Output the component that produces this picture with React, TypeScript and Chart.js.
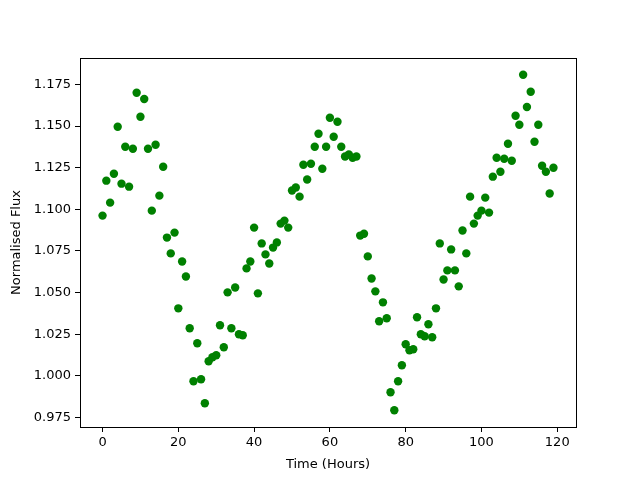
import React, { useEffect, useRef } from "react";
import { Chart, registerables } from "chart.js";

Chart.register(...registerables);

const hours: number[] = Array.from({ length: 120 }, (_, i) => i);

const flux: number[] = [
  1.0962, 1.1172, 1.104, 1.1214, 1.1496, 1.1154, 1.1376, 1.1136, 1.1364, 1.17,
  1.1556, 1.1663, 1.1364, 1.0992, 1.1388, 1.1082, 1.1256, 1.083, 1.0735, 1.086,
  1.0405, 1.0686, 1.0596, 1.0285, 0.9967, 1.0195, 0.9979, 0.9835, 1.0087, 1.0111,
  1.0123, 1.0303, 1.0171, 1.0501, 1.0285, 1.053, 1.0249, 1.0243, 1.0645, 1.0686,
  1.089, 1.0495, 1.0795, 1.0729, 1.0674, 1.077, 1.0801, 1.0914, 1.0932, 1.089,
  1.1113, 1.1131, 1.1076, 1.1268, 1.1179, 1.1274, 1.1376, 1.1454, 1.1244, 1.1376,
  1.155, 1.1436, 1.1526, 1.1376, 1.1317, 1.1329, 1.131, 1.1317, 1.0842, 1.0853,
  1.0717, 1.0584, 1.0507, 1.0327, 1.0441, 1.0345, 0.9901, 0.9793, 0.9967, 1.0063,
  1.0189, 1.0153, 1.0159, 1.0351, 1.0249, 1.0237, 1.0309, 1.0231, 1.0405, 1.0795,
  1.0578, 1.0633, 1.0759, 1.0633, 1.0537, 1.0873, 1.0735, 1.1076, 1.0914, 1.0962,
  1.0992, 1.107, 1.098, 1.1196, 1.131, 1.1226, 1.1304, 1.1394, 1.1292, 1.1562,
  1.1508, 1.1808, 1.1615, 1.1706, 1.1406, 1.1508, 1.1262, 1.1226, 1.1095, 1.125,
];

const xTicks: number[] = [0, 20, 40, 60, 80, 100, 120];
const yTicks: number[] = [0.975, 1.0, 1.025, 1.05, 1.075, 1.1, 1.125, 1.15, 1.175];

const xLabel = "Time (Hours)";
const yLabel = "Normalised Flux";

const FONT = "'DejaVu Sans', sans-serif";

const frame = {
  id: "frame",
  afterDraw(chart: any) {
    const { ctx, chartArea } = chart;
    ctx.save();
    ctx.strokeStyle = "#000";
    ctx.lineWidth = 1;
    ctx.strokeRect(
      Math.round(chartArea.left) + 0.5,
      Math.round(chartArea.top) + 0.5,
      Math.round(chartArea.right - chartArea.left),
      Math.round(chartArea.bottom - chartArea.top)
    );
    ctx.restore();
  },
};

const bg = {
  id: "bg",
  beforeDraw(chart: any) {
    const { ctx, width, height } = chart;
    ctx.save();
    ctx.fillStyle = "#fff";
    ctx.fillRect(0, 0, width, height);
    ctx.restore();
  },
};

export default function App() {
  const ref = useRef<HTMLCanvasElement | null>(null);

  useEffect(() => {
    if (!ref.current) return;
    const chart = new Chart(ref.current, {
      type: "scatter",
      data: {
        datasets: [
          {
            data: hours.map((h, i) => ({ x: h, y: flux[i] })),
            backgroundColor: "#008000",
            borderColor: "#008000",
            pointRadius: 4.2,
            pointHoverRadius: 4.2,
            borderWidth: 0,
          },
        ],
      },
      options: {
        responsive: false,
        animation: false,
        events: [],
        layout: { padding: { left: 0, top: 58, right: 64, bottom: 0 } },
        plugins: {
          legend: { display: false },
          tooltip: { enabled: false },
        },
        scales: {
          x: {
            type: "linear",
            min: -5.95,
            max: 124.95,
            afterFit: (s: any) => {
              s.height = 53;
            },
            afterBuildTicks: (s: any) => {
              s.ticks = xTicks.map((v) => ({ value: v }));
            },
            grid: {
              display: true,
              drawOnChartArea: false,
              drawTicks: true,
              tickLength: 5,
              color: "#000",
            },
            border: { display: true, color: "#000" },
            ticks: {
              color: "#000",
              padding: 3,
              font: { family: FONT, size: 13 },
              maxRotation: 0,
              callback: (v: any) => String(v),
            },
            title: {
              display: true,
              text: xLabel,
              color: "#000",
              font: { family: FONT, size: 13 },
              padding: { top: 0, bottom: 8 },
            },
          },
          y: {
            type: "linear",
            min: 0.9692,
            max: 1.1909,
            afterFit: (s: any) => {
              s.width = 80;
            },
            afterBuildTicks: (s: any) => {
              s.ticks = yTicks.map((v) => ({ value: v }));
            },
            grid: {
              display: true,
              drawOnChartArea: false,
              drawTicks: true,
              tickLength: 5,
              color: "#000",
            },
            border: { display: true, color: "#000" },
            ticks: {
              color: "#000",
              padding: 4,
              font: { family: FONT, size: 13 },
              callback: (v: any) => Number(v).toFixed(3),
            },
            title: {
              display: true,
              text: yLabel,
              color: "#000",
              font: { family: FONT, size: 13 },
              padding: { top: 9, bottom: 0 },
            },
          },
        },
      },
      plugins: [bg, frame],
    } as any);
    return () => chart.destroy();
  }, []);

  return (
    <div style={{ position: "fixed", left: 0, top: 0, width: 640, height: 480, background: "#fff" }}>
      <canvas ref={ref} width={640} height={480} style={{ display: "block" }} />
    </div>
  );
}
